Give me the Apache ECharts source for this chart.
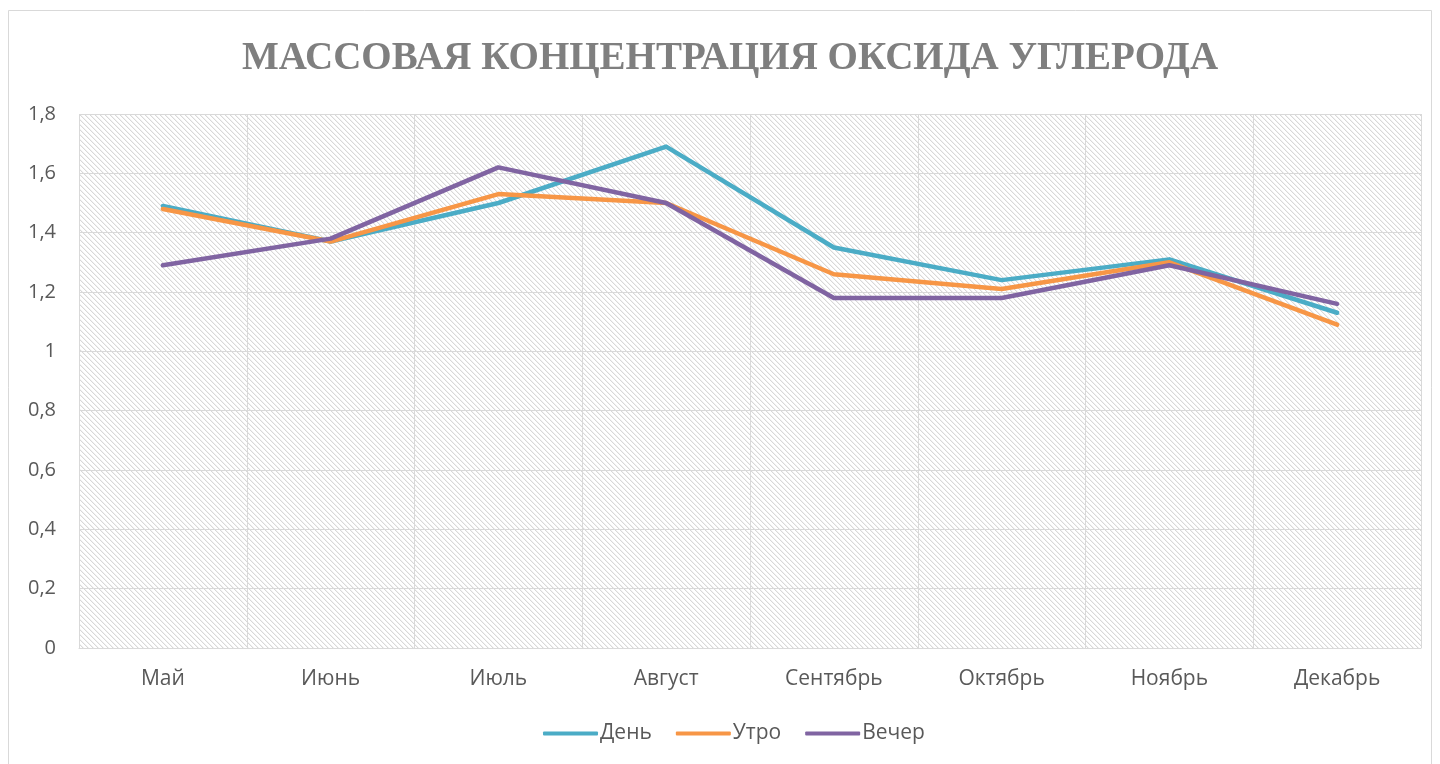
<!DOCTYPE html>
<html><head><meta charset="utf-8">
<script src="https://cdn.jsdelivr.net/npm/echarts@6/dist/echarts.min.js"></script>
<style>html,body{margin:0;padding:0;background:#fff}#c{width:1440px;height:764px}</style>
</head><body><div id="c"></div>
<script>
const categories = ['Май','Июнь','Июль','Август','Сентябрь','Октябрь','Ноябрь','Декабрь'];
const dayValues = [1.49, 1.37, 1.50, 1.69, 1.35, 1.24, 1.31, 1.13];
const morningValues = [1.48, 1.37, 1.53, 1.50, 1.26, 1.21, 1.30, 1.09];
const eveningValues = [1.29, 1.38, 1.62, 1.50, 1.18, 1.18, 1.29, 1.16];
const seriesNames = ['День','Утро','Вечер'];
const titleText = 'МАССОВАЯ КОНЦЕНТРАЦИЯ ОКСИДА УГЛЕРОДА';

function hatch(){
  const n = 5;
  const cv = document.createElement('canvas');
  cv.width = n; cv.height = n;
  const ctx = cv.getContext('2d');
  const img = ctx.createImageData(n, n);
  for (let y = 0; y < n; y++) for (let x = 0; x < n; x++) {
    const i = (y*n + x)*4;
    const d = ((x - y) % n + n) % n;
    let c = 255;
    if (d === 0) c = 216; else if (d === 1) c = 242;
    img.data[i]=c; img.data[i+1]=c; img.data[i+2]=c; img.data[i+3]=255;
  }
  ctx.putImageData(img, 0, 0);
  return cv;
}

const chart = echarts.init(document.getElementById('c'), null, {renderer:'canvas'});
const font = "'Open Sans', 'Noto Sans', sans-serif";
const colors = ['#4BACC6','#F79646','#8064A2'];
const vals = [dayValues, morningValues, eveningValues];
chart.setOption({
  animation:false,
  backgroundColor:'#fff',
  color: colors,
  graphic:[
    {type:'rect', shape:{x:8.5,y:10.5,width:1423,height:770}, style:{fill:'none', stroke:'#d9d9d9', lineWidth:1}, silent:true},
    {type:'text', x:730, y:59, style:{text:titleText, textAlign:'center', textVerticalAlign:'middle', font:"bold 39px 'Liberation Serif', serif", fill:'#7f7f7f'}}
  ],
  grid:{left:79, right:19, top:114, bottom:116, show:true, borderWidth:0, backgroundColor:{image:hatch(), repeat:'repeat'}},
  legend:{
    data: seriesNames.map(n => ({name:n, icon:'roundRect'})), bottom: 15, left:538,
    itemWidth:55, itemHeight:4, itemGap:24,
    textStyle:{fontFamily:font, fontSize:21, color:'#595959', padding:[0,0,0,-3]}
  },
  xAxis:{
    type:'category', data:categories, boundaryGap:true,
    axisLine:{show:true, lineStyle:{color:'#d9d9d9', width:1}},
    axisTick:{show:false},
    splitLine:{show:true, lineStyle:{color:'#d9d9d9', width:1}},
    axisLabel:{fontFamily:font, fontSize:21, color:'#595959', margin:21}
  },
  yAxis:{
    type:'value', min:0, max:1.8, interval:0.2,
    axisLine:{show:false}, axisTick:{show:false},
    splitLine:{lineStyle:{color:'#d9d9d9', width:1}},
    axisLabel:{fontFamily:font, fontSize:20, color:'#595959', margin:23,
      formatter: v => String(Math.round(v*10)/10).replace('.', ',')}
  },
  series: seriesNames.map((name, i) => ({
    name, type:'line', data: vals[i], symbol:'none', showSymbol:false,
    lineStyle:{width:4.5, color:colors[i], cap:'round', join:'round'},
    itemStyle:{color:colors[i]}
  }))
});
</script></body></html>
